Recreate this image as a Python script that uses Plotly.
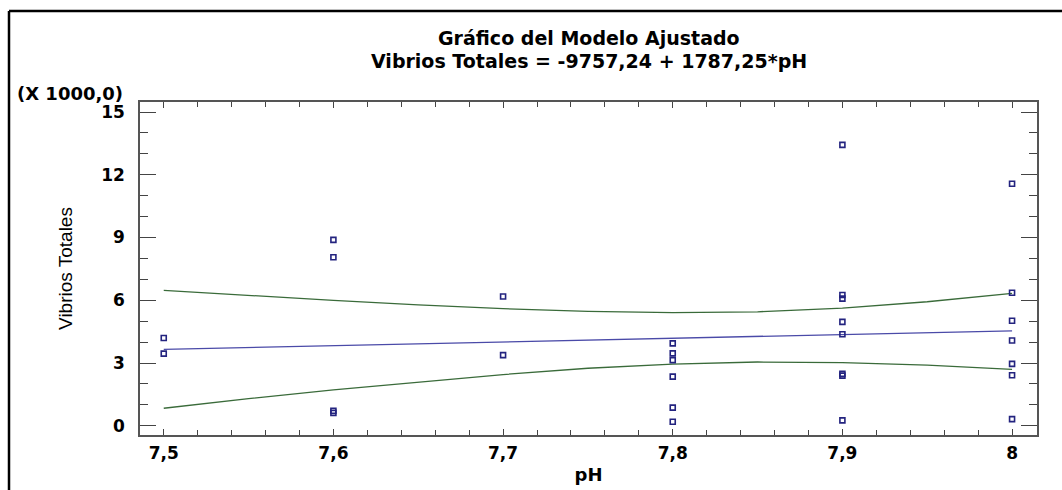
import plotly.graph_objects as go

# Observed data (pH, Vibrios Totales in thousands)
ph_obs = [7.5, 7.5,
          7.6, 7.6, 7.6, 7.6,
          7.7, 7.7,
          7.8, 7.8, 7.8, 7.8, 7.8, 7.8,
          7.9, 7.9, 7.9, 7.9, 7.9, 7.9, 7.9, 7.9,
          8.0, 8.0, 8.0, 8.0, 8.0, 8.0, 8.0]
vib_obs = [4.2, 3.45,
           8.89, 8.06, 0.72, 0.62,
           6.18, 3.38,
           3.94, 3.46, 3.14, 2.35, 0.87, 0.19,
           13.43, 6.25, 6.08, 4.97, 4.38, 2.48, 2.40, 0.26,
           11.57, 6.36, 5.02, 4.08, 2.96, 2.42, 0.32]

# Fitted model line
ph_fit = [7.5, 8.0]
vib_fit = [3.65, 4.54]

# Confidence band limits
ph_band = [7.5, 7.55, 7.6, 7.65, 7.7, 7.75, 7.8, 7.85, 7.9, 7.95, 8.0]
band_upper = [6.47, 6.22, 6.0, 5.78, 5.6, 5.47, 5.41, 5.45, 5.63, 5.93, 6.33]
band_lower = [0.84, 1.3, 1.72, 2.1, 2.45, 2.75, 2.95, 3.05, 3.02, 2.9, 2.7]

x_tickvals = [7.5, 7.6, 7.7, 7.8, 7.9, 8.0]
x_ticktext = ["7,5", "7,6", "7,7", "7,8", "7,9", "8"]
y_tickvals = [0, 3, 6, 9, 12, 15]
y_ticktext = ["0", "3", "6", "9", "12", "15"]

WIDE = "DejaVu Sans, Verdana, sans-serif"
NARROW = "Liberation Sans, Arial, sans-serif"
GREEN = "#3a6b3a"
BLUE_LINE = "#4a4aa8"
NAVY = "#23237f"

fig = go.Figure()
fig.add_trace(go.Scatter(x=ph_band, y=band_upper, mode="lines",
                         line=dict(color=GREEN, width=1.3), showlegend=False))
fig.add_trace(go.Scatter(x=ph_band, y=band_lower, mode="lines",
                         line=dict(color=GREEN, width=1.3), showlegend=False))
fig.add_trace(go.Scatter(x=ph_fit, y=vib_fit, mode="lines",
                         line=dict(color=BLUE_LINE, width=1.3), showlegend=False))
fig.add_trace(go.Scatter(x=ph_obs, y=vib_obs, mode="markers",
                         marker=dict(symbol="square-open", size=5, color=NAVY,
                                     line=dict(width=1.6, color=NAVY)),
                         showlegend=False))

W, H = 1062, 490
L, R, T, B = 140, 25, 102, 55
pw, ph = W - L - R, H - T - B

def px(x):
    return (x - L) / pw

def py(y):
    return (H - B - y) / ph

fig.update_layout(
    width=W, height=H,
    margin=dict(l=L, r=R, t=T, b=B),
    paper_bgcolor="white", plot_bgcolor="white",
    font=dict(family=WIDE, color="black"),
    separators=",.",
    annotations=[
        dict(text="<b>Gráfico del Modelo Ajustado</b>", xref="paper", yref="paper",
             x=0.5, y=py(38), xanchor="center", yanchor="middle", showarrow=False,
             font=dict(size=19, family=WIDE, color="black")),
        dict(text="<b>Vibrios Totales = -9757,24 + 1787,25*pH</b>", xref="paper", yref="paper",
             x=0.5, y=py(61), xanchor="center", yanchor="middle", showarrow=False,
             font=dict(size=19, family=WIDE, color="black")),
        dict(text="<b>(X 1000,0)</b>", xref="paper", yref="paper",
             x=px(15), y=py(93), xanchor="left", yanchor="middle", showarrow=False,
             font=dict(size=18, family=WIDE, color="black")),
    ],
    shapes=[
        dict(type="line", xref="paper", yref="paper", x0=px(9), x1=px(1070),
             y0=py(11), y1=py(11), line=dict(color="black", width=2.5)),
        dict(type="line", xref="paper", yref="paper", x0=px(9), x1=px(9),
             y0=py(11), y1=py(500), line=dict(color="black", width=2.5)),
    ],
)

fig.update_xaxes(
    range=[7.486, 8.0147], showgrid=False, zeroline=False, automargin=False,
    showline=True, linecolor="#555", linewidth=1.5, mirror="ticks",
    ticks="inside", ticklen=6, tickwidth=1.3, tickcolor="#444",
    tickvals=x_tickvals, ticktext=x_ticktext,
    tickfont=dict(size=17, family=WIDE, color="black", weight="bold"),
    ticklabelstandoff=2,
    minor=dict(dtick=0.02, tick0=7.5, ticks="inside", ticklen=5, tickwidth=1.3, tickcolor="#444"),
    title=dict(text="<b>pH</b>", font=dict(size=18, family=WIDE, color="black"), standoff=6),
)
fig.update_yaxes(
    range=[-0.44, 15.48], showgrid=False, zeroline=False, automargin=False,
    showline=True, linecolor="#555", linewidth=1.5, mirror="ticks",
    ticks="inside", ticklen=16, tickwidth=1.3, tickcolor="#444",
    tickvals=y_tickvals, ticktext=y_ticktext,
    tickfont=dict(size=17, family=WIDE, color="black", weight="bold"),
    ticklabelstandoff=10,
    minor=dict(dtick=1, tick0=0, ticks="inside", ticklen=8, tickwidth=1.3, tickcolor="#444"),
    title=dict(text="Vibrios Totales", font=dict(size=19, family=NARROW, color="black"), standoff=24),
)

fig.write_html("out.html")
